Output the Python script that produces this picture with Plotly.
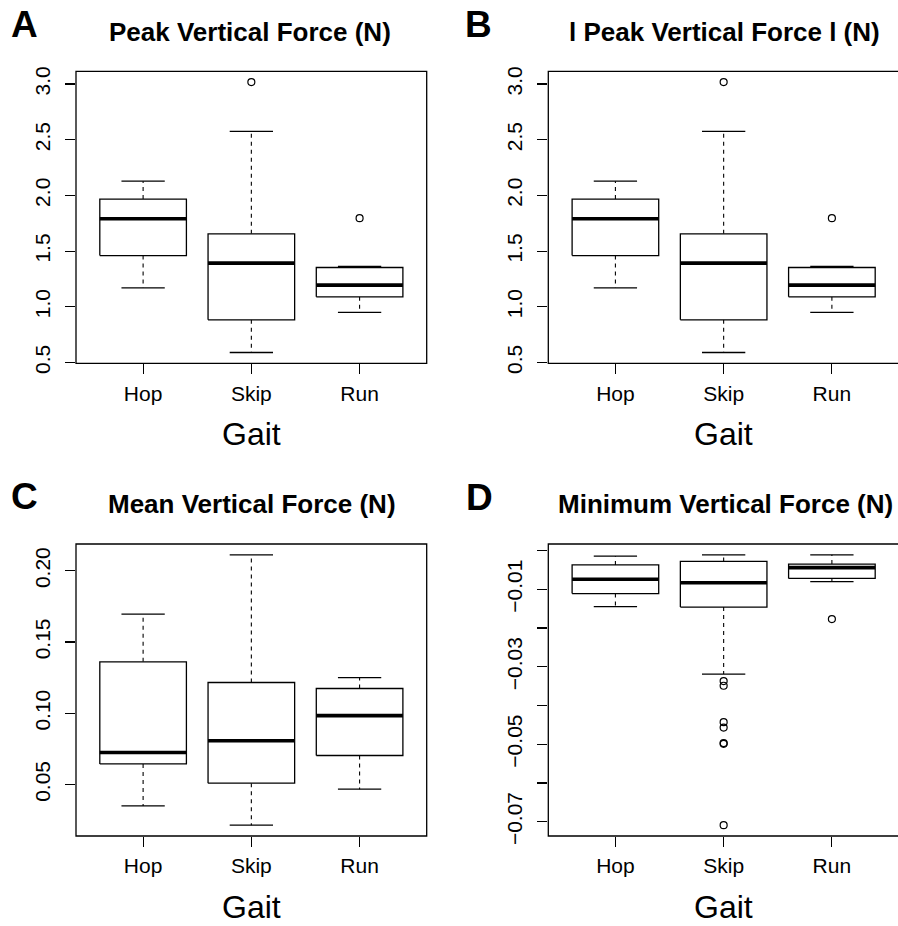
import plotly.graph_objects as go

# ---------------- data ----------------
gaits = ["Hop", "Skip", "Run"]

# A / B : Peak vertical force (N)
peak_low = [1.17, 0.59, 0.95]
peak_q1 = [1.46, 0.883, 1.09]
peak_med = [1.79, 1.392, 1.195]
peak_q3 = [1.967, 1.655, 1.353]
peak_high = [2.128, 2.574, 1.362]
peak_out = [[], [3.017], [1.796]]

# C : Mean vertical force (N)
mean_low = [0.035, 0.0215, 0.0468]
mean_q1 = [0.0645, 0.051, 0.0704]
mean_med = [0.0725, 0.0807, 0.0984]
mean_q3 = [0.1361, 0.1216, 0.1174]
mean_high = [0.1696, 0.2112, 0.1251]
mean_out = [[], [], []]

# D : Minimum vertical force (N)
min_low = [-0.0145, -0.0319, -0.0080]
min_q1 = [-0.0111, -0.0146, -0.0072]
min_med = [-0.0074, -0.0083, -0.0044]
min_q3 = [-0.0037, -0.0028, -0.0035]
min_high = [-0.00145, -0.0011, -0.0011]
min_out = [[], [-0.0337, -0.0349, -0.0443, -0.0457, -0.0497, -0.0499, -0.0709], [-0.0177]]

peak_ticks = [0.5, 1.0, 1.5, 2.0, 2.5, 3.0]
peak_ticklabels = ["0.5", "1.0", "1.5", "2.0", "2.5", "3.0"]
mean_ticks = [0.05, 0.10, 0.15, 0.20]
mean_ticklabels = ["0.05", "0.10", "0.15", "0.20"]
min_ticks = [0.0, -0.01, -0.02, -0.03, -0.04, -0.05, -0.06, -0.07]
min_ticklabels = ["", "\u22120.01", "", "\u22120.03", "", "\u22120.05", "", "\u22120.07"]

titles = ["Peak Vertical Force (N)", "l Peak Vertical Force l (N)",
          "Mean Vertical Force (N)", "Minimum Vertical Force (N)"]
letters = ["A", "B", "C", "D"]

# ---------------- layout geometry ----------------
W, H = 898, 926
FONT = "Liberation Sans, Arial, Helvetica, sans-serif"


def px_x(v):
    return v / W


def px_y(v):
    return 1 - v / H


panels = [
    dict(stats=(peak_low, peak_q1, peak_med, peak_q3, peak_high, peak_out),
         ticks=peak_ticks, labels=peak_ticklabels,
         xdom=[px_x(76), px_x(426.7)], ydom=[px_y(363.3), px_y(71.3)], full=True,
         title_xy=(249.5, 32), letter_xy=(24.5, 25), gait_xy=(251.3, 433.8)),
    dict(stats=(peak_low, peak_q1, peak_med, peak_q3, peak_high, peak_out),
         ticks=peak_ticks, labels=peak_ticklabels,
         xdom=[px_x(548.3), 1.0], ydom=[px_y(363.3), px_y(71.3)], full=False,
         title_xy=(724.8, 32), letter_xy=(479, 25), gait_xy=(723.8, 433.8)),
    dict(stats=(mean_low, mean_q1, mean_med, mean_q3, mean_high, mean_out),
         ticks=mean_ticks, labels=mean_ticklabels,
         xdom=[px_x(76), px_x(426.7)], ydom=[px_y(836), px_y(544)], full=True,
         title_xy=(252, 503.8), letter_xy=(24.2, 496.7), gait_xy=(251.3, 906.5)),
    dict(stats=(min_low, min_q1, min_med, min_q3, min_high, min_out),
         ticks=min_ticks, labels=min_ticklabels,
         xdom=[px_x(548.3), 1.0], ydom=[px_y(836), px_y(544)], full=False,
         title_xy=(725.7, 503.8), letter_xy=(479.3, 497), gait_xy=(723.8, 906.5)),
]

fig = go.Figure()
layout = dict(width=W, height=H, margin=dict(l=0, r=0, t=0, b=0, pad=0, autoexpand=False),
              paper_bgcolor="white", plot_bgcolor="white", showlegend=False,
              font=dict(family=FONT, color="black"))
shapes = []
annotations = []

BOXW = 0.4   # half box width (R boxwex 0.8)
CAPW = 0.2   # half staple width

for k, p in enumerate(panels):
    n = k + 1
    xa = "x" if n == 1 else f"x{n}"
    ya = "y" if n == 1 else f"y{n}"
    low, q1, med, q3, high, out = p["stats"]

    wx, wy, cx, cy, bx, by, mx, my, ox, oy = ([] for _ in range(10))
    for i, g in enumerate(gaits):
        c = i + 1
        # dashed whiskers
        wx += [c, c, None, c, c, None]
        wy += [q3[i], high[i], None, q1[i], low[i], None]
        # staples
        cx += [c - CAPW, c + CAPW, None, c - CAPW, c + CAPW, None]
        cy += [high[i], high[i], None, low[i], low[i], None]
        # box
        bx += [c - BOXW, c + BOXW, c + BOXW, c - BOXW, c - BOXW, None]
        by += [q1[i], q1[i], q3[i], q3[i], q1[i], None]
        # median
        mx += [c - BOXW, c + BOXW, None]
        my += [med[i], med[i], None]
        for v in out[i]:
            ox.append(c)
            oy.append(v)

    common = dict(xaxis=xa, yaxis=ya, hoverinfo="skip", showlegend=False)
    fig.add_trace(go.Scatter(x=wx, y=wy, mode="lines",
                             line=dict(color="black", width=1.1, dash="4px,4px"), **common))
    fig.add_trace(go.Scatter(x=cx, y=cy, mode="lines",
                             line=dict(color="black", width=1.3), **common))
    fig.add_trace(go.Scatter(x=bx, y=by, mode="lines", fill="toself", fillcolor="white",
                             line=dict(color="black", width=1.3), **common))
    fig.add_trace(go.Scatter(x=mx, y=my, mode="lines",
                             line=dict(color="black", width=3.6), **common))
    if ox:
        fig.add_trace(go.Scatter(x=ox, y=oy, mode="markers",
                                 marker=dict(symbol="circle-open", size=7, color="black",
                                             line=dict(width=1.2, color="black")), **common))

    # R-style axis limits (data range extended by 4 %)
    allv = low + high + [v for o in out for v in o]
    lo, hi = min(allv), max(allv)
    pad = 0.04 * (hi - lo)
    yr = [lo - pad, hi + pad]
    xr_end = 3.62 if p["full"] else 0.38 + 3.24 * (W - 548.3) / 350.7

    axis_common = dict(showgrid=False, zeroline=False, showline=False, automargin=False,
                       ticks="outside", ticklen=10, tickwidth=1.1, tickcolor="black",
                       tickfont=dict(family=FONT, size=21, color="black"), fixedrange=True)
    layout["xaxis" if n == 1 else f"xaxis{n}"] = dict(
        domain=p["xdom"], range=[0.38, xr_end], anchor=ya, ticklabelstandoff=1,
        tickmode="array", tickvals=[1, 2, 3], ticktext=gaits, **axis_common)
    layout["yaxis" if n == 1 else f"yaxis{n}"] = dict(
        domain=p["ydom"], range=yr, anchor=xa, tickangle=-90, ticklabelstandoff=7,
        tickmode="array", tickvals=p["ticks"], ticktext=p["labels"], **axis_common)

    # plot frame (box())
    shapes.append(dict(type="rect", xref=f"{xa} domain", yref=f"{ya} domain",
                       x0=0, x1=1 if p["full"] else 350.7 / (W - 548.3), y0=0, y1=1,
                       line=dict(color="black", width=1.3), layer="above"))

    tx, ty = p["title_xy"]
    annotations.append(dict(text=f"<b>{titles[k]}</b>", xref="paper", yref="paper",
                            x=px_x(tx), y=px_y(ty), xanchor="center", yanchor="middle",
                            showarrow=False, font=dict(family=FONT, size=26, color="black")))
    lx, ly = p["letter_xy"]
    annotations.append(dict(text=f"<b>{letters[k]}</b>", xref="paper", yref="paper",
                            x=px_x(lx), y=px_y(ly), xanchor="center", yanchor="middle",
                            showarrow=False, font=dict(family=FONT, size=37, color="black")))
    gx, gy = p["gait_xy"]
    annotations.append(dict(text="Gait", xref="paper", yref="paper",
                            x=px_x(gx), y=px_y(gy), xanchor="center", yanchor="middle",
                            showarrow=False, font=dict(family=FONT, size=32, color="black")))

layout["shapes"] = shapes
layout["annotations"] = annotations
fig.update_layout(**layout)
fig.write_html("out.html", config={"displayModeBar": False, "staticPlot": True},
               post_script="document.body.style.margin='0';document.body.style.padding='0';")
